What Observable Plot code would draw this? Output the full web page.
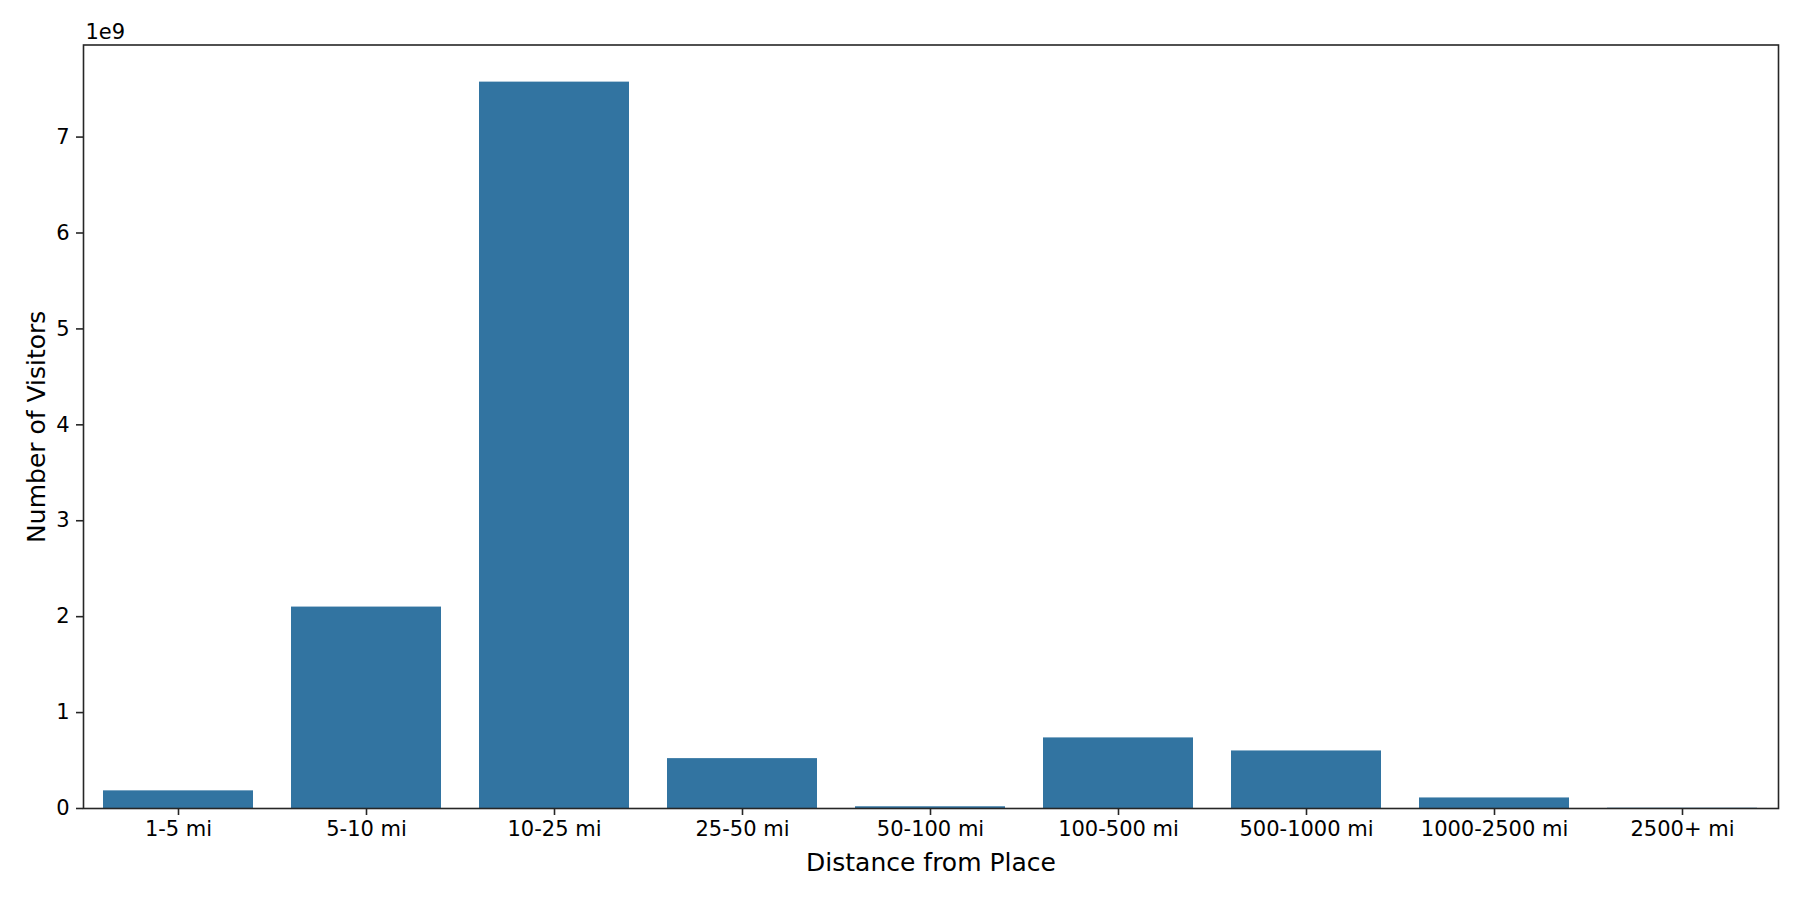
<!DOCTYPE html>
<html>
<head>
<meta charset="utf-8">
<script src="https://cdn.jsdelivr.net/npm/d3@7"></script>
<script src="https://cdn.jsdelivr.net/npm/@observablehq/plot@0.6"></script>
<style>
  html, body { margin: 0; padding: 0; background: #fff; }
  #chart { width: 1800px; height: 900px; }
</style>
</head>
<body>
<div id="chart"></div>
<script>
const categories = ["1-5 mi", "5-10 mi", "10-25 mi", "25-50 mi", "50-100 mi", "100-500 mi", "500-1000 mi", "1000-2500 mi", "2500+ mi"];
const visitors = [0.184e9, 2.10e9, 7.573e9, 0.52e9, 0.018e9, 0.736e9, 0.60e9, 0.11e9, 0.003e9];
const yTicks = [0, 1e9, 2e9, 3e9, 4e9, 5e9, 6e9, 7e9];
const xLabel = "Distance from Place";
const yLabel = "Number of Visitors";
const offsetText = "1e9";

const data = categories.map((c, i) => ({category: c, value: visitors[i]}));

const chart = Plot.plot({
  width: 1800,
  height: 900,
  marginLeft: 83,
  marginRight: 22,
  marginTop: 44.5,
  marginBottom: 92,
  style: {fontFamily: "DejaVu Sans", fontSize: "21px", color: "#000", background: "#fff", overflow: "visible"},
  x: {domain: categories, paddingInner: 0.2, paddingOuter: 0.1, label: null},
  y: {domain: [0, 7.96e9], label: null},
  marks: [
    Plot.barY(data, {x: "category", y: "value", fill: "#3274a1"}),
    Plot.axisX({tickSize: 7, tickPadding: 6, strokeWidth: 1.6, stroke: "#262626", fontSize: 21, label: null}),
    Plot.axisY({ticks: yTicks, tickFormat: d => d / 1e9, tickSize: 7, tickPadding: 7, strokeWidth: 1.6, stroke: "#262626", fontSize: 21, label: null}),
    Plot.frame({stroke: "#262626", strokeWidth: 1.6}),
    Plot.text([xLabel], {text: d => d, frameAnchor: "bottom", dy: 54, lineAnchor: "middle", fontSize: 25}),
    Plot.text([yLabel], {text: d => d, frameAnchor: "left", dx: -47, rotate: -90, textAnchor: "middle", lineAnchor: "middle", fontSize: 25}),
    Plot.text([offsetText], {text: d => d, frameAnchor: "top-left", dx: 2, dy: -6, textAnchor: "start", lineAnchor: "bottom", fontSize: 21})
  ]
});
document.getElementById("chart").appendChild(chart);
</script>
</body>
</html>
